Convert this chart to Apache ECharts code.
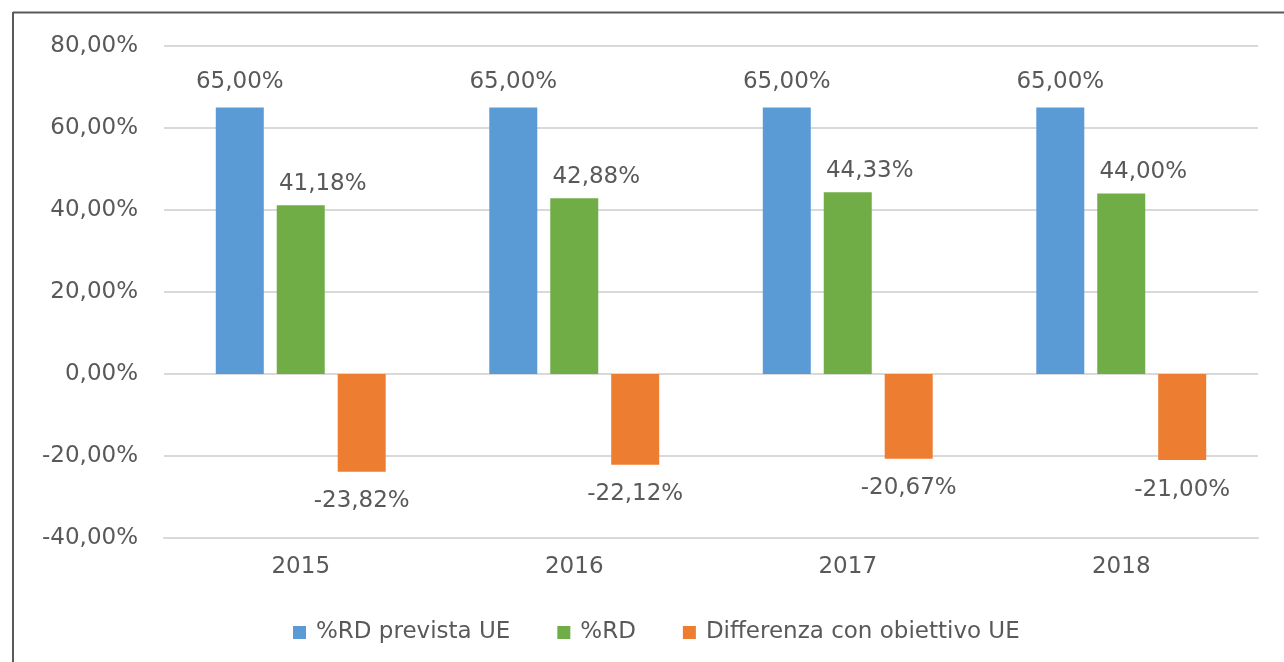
<!DOCTYPE html>
<html lang="it">
  <head>
    <meta charset="UTF-8" />
    <title>%RD prevista UE</title>
    <script src="https://cdn.jsdelivr.net/npm/echarts@6/dist/echarts.min.js"></script>
    <style>
      body {
        margin: 0;
        background-color: #ffffff;
      }

      #chart {
        width: 1284px;
        height: 662px;
      }
    </style>
  </head>
  <body>
    <div id="chart"></div>
    <script>
      // data
      const years = ["2015", "2016", "2017", "2018"];
      const rdPrevista = [65.0, 65.0, 65.0, 65.0];
      const rd = [41.18, 42.88, 44.33, 44.0];
      const differenza = [-23.82, -22.12, -20.67, -21.0];
      const seriesNames = ["%RD prevista UE", "%RD", "Differenza con obiettivo UE"];

      const textColor = "#595959";
      const fontFamily = "DejaVu Sans, sans-serif";

      // 41.18 -> "41,18%"
      function pct(v) {
        return v.toFixed(2).replace(".", ",") + "%";
      }

      const chart = echarts.init(document.getElementById("chart"));

      const labelBase = {
        show: true,
        color: textColor,
        fontFamily: fontFamily,
        fontSize: 23,
        formatter: (p) => pct(p.value),
      };

      const options = {
        animation: false,
        textStyle: { fontFamily: fontFamily },
        grid: {
          left: 164,
          right: 26,
          top: 46,
          bottom: 124,
          outerBoundsMode: "none",
        },
        legend: {
          left: 288,
          top: 616,
          itemWidth: 13,
          itemHeight: 13,
          itemGap: 47,
          icon: "rect",
          textStyle: {
            color: textColor,
            fontSize: 23,
            fontFamily: fontFamily,
            padding: [0, 0, 0, 5],
          },
          data: seriesNames,
        },
        xAxis: {
          type: "category",
          data: years,
          axisLine: {
            onZero: false,
            lineStyle: { color: "#d9d9d9", width: 2 },
          },
          axisTick: { show: false },
          axisLabel: {
            color: textColor,
            fontSize: 23,
            fontFamily: fontFamily,
            margin: 18,
          },
        },
        yAxis: {
          type: "value",
          min: -40,
          max: 80,
          interval: 20,
          axisLine: { show: false },
          axisTick: { show: false },
          axisLabel: {
            color: textColor,
            fontSize: 23,
            fontFamily: fontFamily,
            margin: 26,
            formatter: (v) => pct(v),
          },
          splitLine: {
            lineStyle: { color: "#d9d9d9", width: 2 },
          },
        },
        series: [
          {
            name: seriesNames[0],
            type: "bar",
            data: rdPrevista,
            barWidth: 48,
            barGap: "27%",
            itemStyle: { color: "#5b9bd5" },
            label: Object.assign({}, labelBase, {
              position: "top",
              distance: 14,
            }),
          },
          {
            name: seriesNames[1],
            type: "bar",
            data: rd,
            barWidth: 48,
            barGap: "27%",
            itemStyle: { color: "#70ad47" },
            label: Object.assign({}, labelBase, {
              position: "top",
              distance: 10,
              offset: [22, 0],
            }),
          },
          {
            name: seriesNames[2],
            type: "bar",
            data: differenza,
            barWidth: 48,
            barGap: "27%",
            itemStyle: { color: "#ed7d31" },
            label: Object.assign({}, labelBase, {
              position: "bottom",
              distance: 18,
            }),
          },
        ],
        graphic: [
          {
            type: "line",
            shape: { x1: 13, y1: 12.5, x2: 1284, y2: 12.5 },
            style: { stroke: "#595959", lineWidth: 2 },
          },
          {
            type: "line",
            shape: { x1: 13, y1: 12, x2: 13, y2: 662 },
            style: { stroke: "#595959", lineWidth: 2 },
          },
        ],
      };

      chart.setOption(options);
    </script>
  </body>
</html>
